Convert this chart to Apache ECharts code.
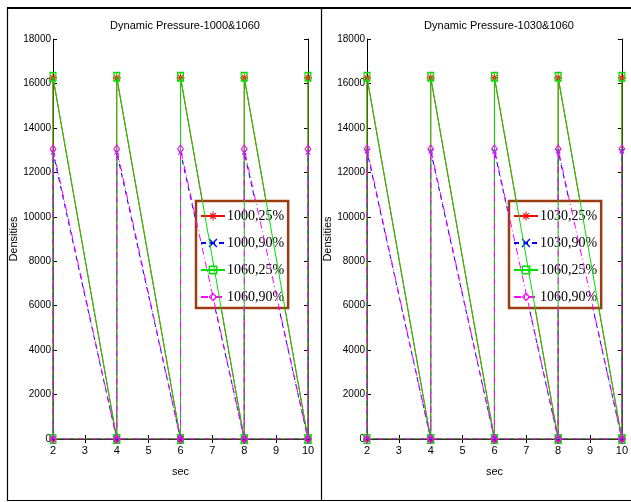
<!DOCTYPE html>
<html>
<head>
<meta charset="utf-8">
<script src="https://cdn.jsdelivr.net/npm/echarts@6/dist/echarts.min.js"></script>
<style>html,body{margin:0;padding:0;background:#fff}#c{width:631px;height:502px}</style>
</head>
<body>
<div id="c"></div>
<script>
// ---- data ----
const titles = ["Dynamic Pressure-1000&1060", "Dynamic Pressure-1030&1060"];
const xTicks = [2, 3, 4, 5, 6, 7, 8, 9, 10];
const yTicks = [0, 2000, 4000, 6000, 8000, 10000, 12000, 14000, 16000, 18000];
// path: baseline (10 -> 2 at 0), then sawtooth peaks
const sec = [10, 8, 6, 4, 2, 2, 4, 4, 6, 6, 8, 8, 10, 10];
const namesLeft = ["1000,25%", "1000,90%", "1060,25%", "1060,90%"];
const namesRight = ["1030,25%", "1030,90%", "1060,25%", "1060,90%"];
const left_1000_25 = [0, 0, 0, 0, 0, 16250, 0, 16250, 0, 16250, 0, 16250, 0, 16250];
const left_1000_90 = [0, 0, 0, 0, 0, 12900, 0, 12900, 0, 12900, 0, 12900, 0, 12900];
const left_1060_25 = [0, 0, 0, 0, 0, 16300, 0, 16300, 0, 16300, 0, 16300, 0, 16300];
const left_1060_90 = [0, 0, 0, 0, 0, 13050, 0, 13050, 0, 13050, 0, 13050, 0, 13050];
const right_1030_25 = [0, 0, 0, 0, 0, 16250, 0, 16250, 0, 16250, 0, 16250, 0, 16250];
const right_1030_90 = [0, 0, 0, 0, 0, 12950, 0, 12950, 0, 12950, 0, 12950, 0, 12950];
const right_1060_25 = [0, 0, 0, 0, 0, 16300, 0, 16300, 0, 16300, 0, 16300, 0, 16300];
const right_1060_90 = [0, 0, 0, 0, 0, 13050, 0, 13050, 0, 13050, 0, 13050, 0, 13050];

// ---- styles ----
const AX_FONT = "'Liberation Sans Narrow','Arial Narrow','Liberation Sans',Arial,sans-serif";
const STAR = 'path://M4.4,0 h1.2 v10 h-1.2 z M0,4.4 h10 v1.2 h-10 z M1.3,2.1 L2.1,1.3 L8.7,7.9 L7.9,8.7 z M7.9,1.3 L8.7,2.1 L2.1,8.7 L1.3,7.9 z';
const XMARK = 'path://M1.3,2.1 L2.1,1.3 L8.7,7.9 L7.9,8.7 z M7.9,1.3 L8.7,2.1 L2.1,8.7 L1.3,7.9 z M4.4,4.4 h1.2 v1.2 h-1.2 z';
const SQUARE = 'path://M0,0 h10 v10 h-10 z M1.6,1.6 v6.8 h6.8 v-6.8 z';
const DIAMOND = 'path://M5,0 L10,5 L5,10 L0,5 z M5,1.8 L1.8,5 L5,8.2 L8.2,5 z';
const styles = [
  {color: '#ff0000', type: 'solid', symbol: STAR, size: [8, 9]},
  {color: '#0000ff', type: [5, 4], symbol: XMARK, size: [5, 5]},
  {color: '#00e000', type: 'solid', symbol: SQUARE, size: [7, 10]},
  {color: '#ff00ff', type: [7, 3, 1, 3], symbol: DIAMOND, size: [7, 10]}
];

function pairs(xs, ys) { return xs.map((x, i) => [x, ys[i]]); }

const grids = [
  {left: 53, right: 323, top: 39, bottom: 63},
  {left: 367, right: 9, top: 39, bottom: 63}
];
const xAxes = [], yAxes = [];
grids.forEach((g, gi) => {
  xAxes.push({
    type: 'value', gridIndex: gi, min: 2, max: 10, interval: 1, position: 'bottom',
    name: 'sec', nameLocation: 'middle', nameGap: 27,
    nameTextStyle: {fontFamily: AX_FONT, fontSize: 11, color: '#000'},
    axisLine: {lineStyle: {color: '#000', width: 1}},
    axisTick: {inside: true, length: 4, lineStyle: {color: '#000'}},
    axisLabel: {fontFamily: AX_FONT, fontSize: 11, color: '#000', margin: 6},
    splitLine: {show: false}
  });
  xAxes.push({
    type: 'value', gridIndex: gi, min: 2, max: 10, interval: 1, position: 'top',
    axisLine: {lineStyle: {color: '#000', width: 1}},
    axisTick: {inside: true, length: 4, lineStyle: {color: '#000'}},
    axisLabel: {show: false}, splitLine: {show: false}
  });
  yAxes.push({
    type: 'value', gridIndex: gi, min: 0, max: 18000, interval: 2000, position: 'left',
    name: 'Densities', nameLocation: 'middle', nameGap: 34, nameRotate: 90,
    nameTextStyle: {fontFamily: "'Liberation Sans',Arial,sans-serif", fontSize: 11, color: '#000'},
    axisLine: {show: true, lineStyle: {color: '#000', width: 1}},
    axisTick: {show: true, inside: true, length: 4, lineStyle: {color: '#000'}},
    axisLabel: {fontFamily: AX_FONT, fontSize: 10, color: '#000', margin: 2,
                formatter: v => String(v)},
    splitLine: {show: false}
  });
  yAxes.push({
    type: 'value', gridIndex: gi, min: 0, max: 18000, interval: 2000, position: 'right',
    axisLine: {show: true, lineStyle: {color: '#000', width: 1}},
    axisTick: {show: true, inside: true, length: 4, lineStyle: {color: '#000'}},
    axisLabel: {show: false}, splitLine: {show: false}
  });
});

const panelData = [
  {names: namesLeft, vals: [left_1000_25, left_1000_90, left_1060_25, left_1060_90]},
  {names: namesRight, vals: [right_1030_25, right_1030_90, right_1060_25, right_1060_90]}
];
const series = [];
panelData.forEach((p, pi) => {
  p.vals.forEach((v, si) => {
    const s = styles[si];
    series.push({
      type: 'line', name: p.names[si], xAxisIndex: pi * 2, yAxisIndex: pi * 2,
      data: pairs(sec, v), symbol: s.symbol, symbolSize: s.size, showSymbol: true,
      lineStyle: {color: s.color, width: 1, type: s.type},
      itemStyle: {color: s.color},
      animation: false, z: 2 + si
    });
  });
});

const legendCommon = {
  orient: 'vertical', itemGap: 13, itemWidth: 24, itemHeight: 11,
  padding: [8, 4, 4, 4], borderColor: '#9a3d12', borderWidth: 2.5, backgroundColor: '#fff',
  textStyle: {fontFamily: "'Liberation Serif','Times New Roman',serif", fontSize: 14, color: '#000', padding: [0, 0, 0, -3]}
};

const option = {
  backgroundColor: '#fff',
  animation: false,
  title: [
    {text: titles[0], left: 180, top: 15, textAlign: 'center',
     textStyle: {fontFamily: AX_FONT, fontSize: 11, fontWeight: 'normal', color: '#000'}},
    {text: titles[1], left: 494, top: 15, textAlign: 'center',
     textStyle: {fontFamily: AX_FONT, fontSize: 11, fontWeight: 'normal', color: '#000'}}
  ],
  grid: grids,
  xAxis: xAxes,
  yAxis: yAxes,
  legend: [
    Object.assign({data: namesLeft, left: 196, top: 201}, legendCommon),
    Object.assign({data: namesRight, left: 509, top: 201}, legendCommon)
  ],
  series: series,
  graphic: [
    {type: 'line', shape: {x1: 7, y1: 8, x2: 631, y2: 8}, style: {stroke: '#000', lineWidth: 2}, silent: true},
    {type: 'line', shape: {x1: 7.5, y1: 8, x2: 7.5, y2: 501}, style: {stroke: '#000', lineWidth: 1.2}, silent: true},
    {type: 'line', shape: {x1: 7, y1: 500.5, x2: 631, y2: 500.5}, style: {stroke: '#000', lineWidth: 1.2}, silent: true},
    {type: 'line', shape: {x1: 321.5, y1: 8, x2: 321.5, y2: 501}, style: {stroke: '#000', lineWidth: 1.2}, silent: true}
  ]
};
const chart = echarts.init(document.getElementById('c'), null, {renderer: 'canvas'});
chart.setOption(option);
</script>
</body>
</html>
